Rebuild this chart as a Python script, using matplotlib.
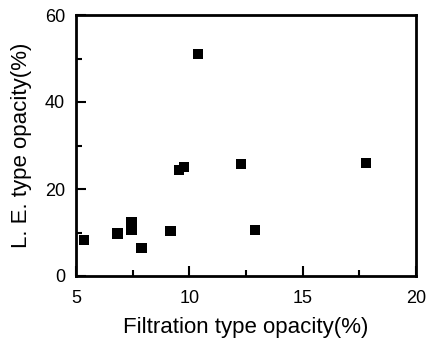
import matplotlib
matplotlib.use('Agg')
import matplotlib.pyplot as plt
from matplotlib.ticker import MultipleLocator

# values
filtration = [5.35, 6.83, 7.45, 7.45, 7.89, 9.17, 9.55, 9.77, 10.39, 12.28, 12.9, 17.8]
le_opacity = [8.3, 9.8, 12.3, 10.6, 6.4, 10.4, 24.4, 25.1, 51.0, 25.7, 10.6, 25.9]

xticks = [5, 10, 15, 20]
yticks = [0, 20, 40, 60]

plt.rcParams['font.family'] = ['Liberation Sans', 'DejaVu Sans']

fig = plt.figure(figsize=(4.27, 3.39), dpi=100)
ax = fig.add_axes([76/427, 1 - 276/339, (416-76)/427, (276-15)/339])

ax.scatter(filtration, le_opacity, marker='s', s=55, c='black', edgecolors='none', zorder=3)

ax.set_xlim(5, 20)
ax.set_ylim(0, 60)
ax.set_xticks(xticks)
ax.set_yticks(yticks)
ax.xaxis.set_minor_locator(MultipleLocator(2.5))
ax.yaxis.set_minor_locator(MultipleLocator(10))
ax.tick_params(which='major', direction='in', length=7, width=1.5, labelsize=13)
ax.tick_params(which='minor', direction='in', length=4, width=1.5)
ax.tick_params(axis='x', which='major', pad=10)
ax.tick_params(axis='y', which='major', pad=8)
for s in ax.spines.values():
    s.set_linewidth(2)

ax.set_xlabel('Filtration type opacity(%)', fontsize=16, labelpad=7)
ax.set_ylabel('L. E. type opacity(%)', fontsize=16, labelpad=9)

fig.savefig('out.png', dpi=100)
